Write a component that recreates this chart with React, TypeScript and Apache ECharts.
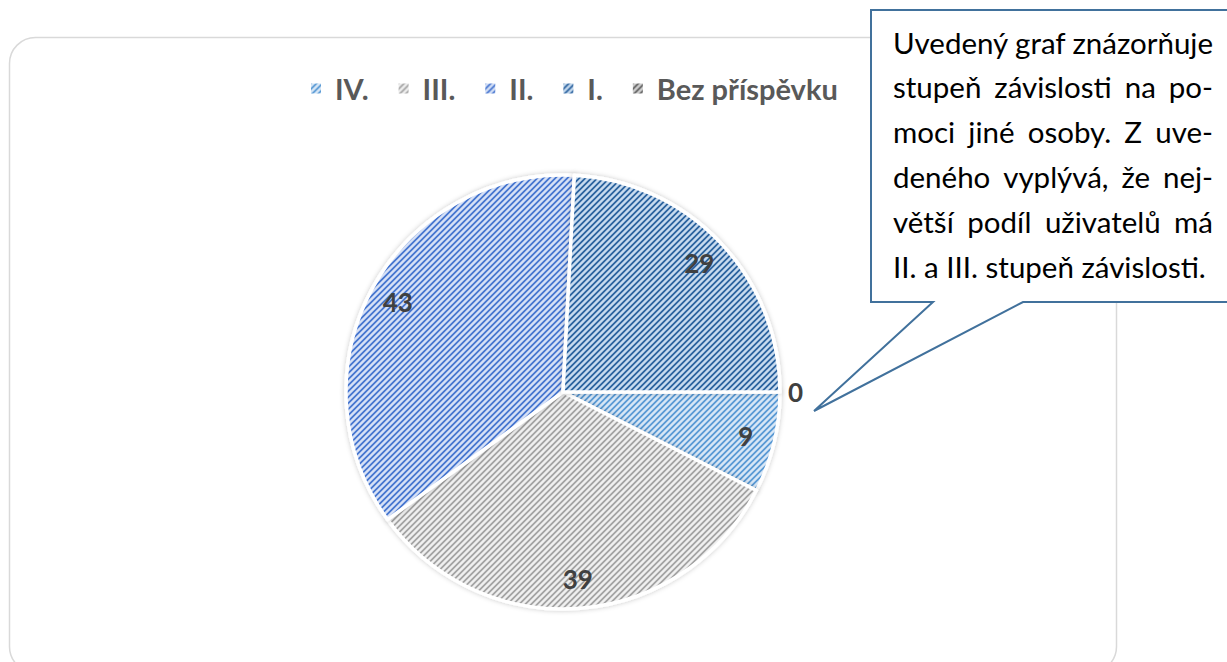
import React, { useEffect, useRef } from "react";
import * as echarts from "echarts";

const categories = ["IV.", "III.", "II.", "I.", "Bez příspěvku"];
const values = [9, 39, 43, 29, 0];
const stripeColors = ["#5b9bd5", "#a5a5a5", "#4a78d0", "#2f65a0", "#636363"];
const fillColors = ["#d8e7f6", "#f0f0f0", "#d7e1f6", "#c8dbef", "#d0d0d0"];
const calloutLines = [
  "Uvedený graf znázorňuje",
  "stupeň závislosti na po-",
  "moci jiné osoby. Z uve-",
  "deného vyplývá, že nej-",
  "větší podíl uživatelů má",
  "II. a III. stupeň závislosti.",
];

const FONT = "Lato, 'Open Sans', sans-serif";

function hexToRgb(h: string) {
  const n = parseInt(h.slice(1), 16);
  return [(n >> 16) & 255, (n >> 8) & 255, n & 255];
}

function makeTile(fg: string, bg: string) {
  const size = 6;
  const c = document.createElement("canvas");
  c.width = size;
  c.height = size;
  const ctx = c.getContext("2d") as CanvasRenderingContext2D;
  const img = ctx.createImageData(size, size);
  const f = hexToRgb(fg);
  const b = hexToRgb(bg);
  for (let y = 0; y < size; y++) {
    for (let x = 0; x < size; x++) {
      const k = (x + y) % size;
      let t = 0;
      if (k === 0 || k === 1) t = 1;
      else if (k === 2 || k === 5) t = 0.3;
      const idx = (y * size + x) * 4;
      img.data[idx] = Math.round(f[0] * t + b[0] * (1 - t));
      img.data[idx + 1] = Math.round(f[1] * t + b[1] * (1 - t));
      img.data[idx + 2] = Math.round(f[2] * t + b[2] * (1 - t));
      img.data[idx + 3] = 255;
    }
  }
  ctx.putImageData(img, 0, 0);
  return { image: c, repeat: "repeat", imageWidth: size, imageHeight: size };
}

export default function App() {
  const ref = useRef<HTMLDivElement>(null);
  useEffect(() => {
    const chart = echarts.init(ref.current as HTMLDivElement, null, { renderer: "svg" });
    const canvas = document.createElement("canvas");
    const ctx = canvas.getContext("2d") as CanvasRenderingContext2D;
    const fs = 29.5;
    ctx.font = `${fs}px Lato`;
    const left = 893;
    const right = 1213;
    const width = right - left;
    const textEls: any[] = [];
    calloutLines.forEach((line, i) => {
      const y = 42 + i * 44.8;
      const style = { fontSize: fs, fontFamily: FONT, fill: "#000", verticalAlign: "middle" as const };
      if (i === calloutLines.length - 1) {
        textEls.push({ type: "text", x: left, y, z: 20, style: { ...style, text: line } });
        return;
      }
      const words = line.split(" ");
      const ws = words.map((w) => ctx.measureText(w).width);
      const total = ws.reduce((a, b) => a + b, 0);
      const gap = words.length > 1 ? (width - total) / (words.length - 1) : 0;
      let x = left;
      words.forEach((w, j) => {
        textEls.push({ type: "text", x, y, z: 20, style: { ...style, text: w } });
        x += ws[j] + gap;
      });
    });

    const mainData = values.map((v, i) => ({
      name: categories[i],
      value: v,
      itemStyle: { color: makeTile(stripeColors[i], fillColors[i]) },
      label: v === 0 ? { show: true } : { show: false },
    }));

    const labelData = values.map((v, i) => ({
      name: categories[i],
      value: v,
      label: { show: v > 0 },
    }));

    chart.setOption({
      animation: false,
      graphic: [
        {
          type: "rect",
          z: 0,
          shape: { x: 9.5, y: 37.5, width: 1107, height: 635, r: 26 },
          style: { fill: "#fff", stroke: "#d9d9d9", lineWidth: 1.5 },
        },
        {
          type: "polygon",
          z: 10,
          shape: {
            points: [
              [871, 10],
              [1240, 10],
              [1240, 302],
              [1023, 302],
              [814, 411],
              [933, 302],
              [871, 302],
            ],
          },
          style: { fill: "#fff", stroke: "#41719c", lineWidth: 2 },
        },
        ...textEls,
      ],
      legend: {
        data: categories,
        left: 304,
        top: 69,
        itemWidth: 12,
        itemHeight: 12,
        itemGap: 28,
        icon: "rect",
        textStyle: {
          fontFamily: FONT,
          fontWeight: "bold",
          fontSize: 29,
          color: "#595959",
          padding: [0, 0, 0, 8],
        },
      },
      series: [
        {
          type: "pie",
          center: [563, 392],
          radius: 217,
          startAngle: 0,
          clockwise: true,
          avoidLabelOverlap: false,
          itemStyle: {
            borderColor: "#ffffff",
            borderWidth: 3.5,
            shadowBlur: 5,
            shadowColor: "rgba(0,0,0,0.22)",
          },
          label: {
            position: "outside",
            formatter: "{c}",
            fontFamily: FONT,
            fontWeight: "bold",
            fontSize: 26,
            color: "#404040",
          },
          labelLine: { show: false, length: 3, length2: 0 },
          emphasis: { disabled: true },
          data: mainData,
        },
        {
          type: "pie",
          center: [563, 392],
          radius: [150, 220],
          startAngle: 0,
          clockwise: true,
          silent: true,
          avoidLabelOverlap: false,
          itemStyle: { color: "transparent", borderWidth: 0 },
          label: {
            position: "inside",
            formatter: "{c}",
            fontFamily: FONT,
            fontWeight: "bold",
            fontSize: 26,
            color: "#404040",
          },
          labelLine: { show: false },
          emphasis: { disabled: true },
          data: labelData,
        },
      ],
    });
    return () => chart.dispose();
  }, []);
  return (
    <div
      ref={ref}
      style={{ position: "absolute", left: 0, top: 0, width: 1227, height: 662 }}
    />
  );
}
